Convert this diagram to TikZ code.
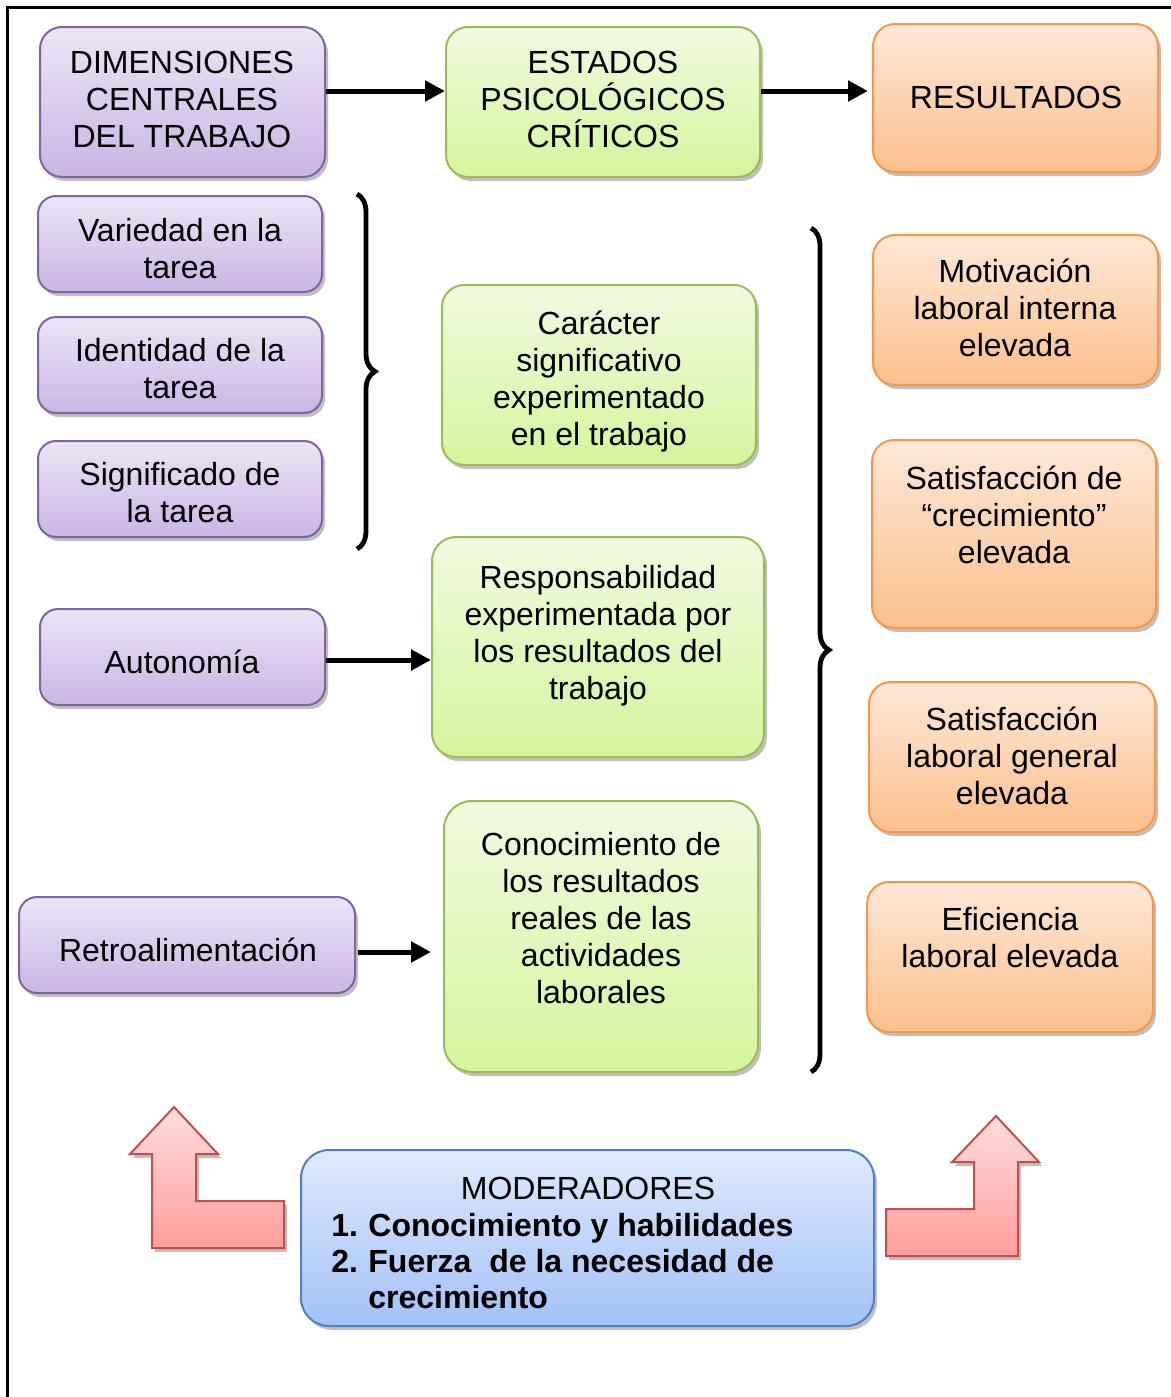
\documentclass[tikz,border=0pt]{standalone}
\usepackage{fontspec}
\setmainfont{Liberation Sans}
\usetikzlibrary{
  arrows.meta,
  shadows,
  decorations.pathreplacing
}
\definecolor{jcPurple}{HTML}{8064A2}
\definecolor{jcPurpleTop}{HTML}{EDE5F6}
\definecolor{jcPurpleBot}{HTML}{C9B5E4}
\definecolor{jcGreen}{HTML}{9BBB59}
\definecolor{jcGreenTop}{HTML}{F1FAE1}
\definecolor{jcGreenBot}{HTML}{D4F59C}
\definecolor{jcOrange}{HTML}{F79646}
\definecolor{jcOrangeTop}{HTML}{FDE8D8}
\definecolor{jcOrangeBot}{HTML}{FBBF8C}
\definecolor{jcBlue}{HTML}{4F81BD}
\definecolor{jcBlueTop}{HTML}{DFEAFC}
\definecolor{jcBlueBot}{HTML}{A3C1F7}
\definecolor{jcRed}{HTML}{C0504D}
\definecolor{jcRedTop}{HTML}{FFDEDE}
\definecolor{jcRedBot}{HTML}{FF9C9C}
\tikzset{
  jcbox/.style={
    draw, line width=1pt, rounded corners=9pt, inner sep=0pt,
    drop shadow={shadow xshift=1.5pt, shadow yshift=-2pt, opacity=0.25, fill=black}
  },
  dimbox/.style={jcbox, draw=jcPurple, top color=jcPurpleTop, bottom color=jcPurpleBot},
  psibox/.style={jcbox, draw=jcGreen, top color=jcGreenTop, bottom color=jcGreenBot},
  resbox/.style={jcbox, draw=jcOrange, top color=jcOrangeTop, bottom color=jcOrangeBot},
  modbox/.style={jcbox, draw=jcBlue, top color=jcBlueTop, bottom color=jcBlueBot, rounded corners=14pt},
  bentarrow/.style={
    draw=jcRed, line width=1pt, top color=jcRedTop, bottom color=jcRedBot,
    drop shadow={shadow xshift=1.5pt, shadow yshift=-2pt, opacity=0.25, fill=black}
  },
  txt/.style={font=\fontsize{16}{18.5}\selectfont, align=center, inner sep=0pt},
  flow/.style={-{Triangle[length=10pt, width=10pt]}, line width=2.5pt},
  brace/.style={decorate, decoration={brace, amplitude=9pt}, line width=2.4pt},
  frame/.style={line width=1.5pt}
}

\begin{document}
\begin{tikzpicture}[x=0.5pt, y=-0.5pt]
  \useasboundingbox (0,0) rectangle (1171,1397);
  \draw[frame] (7,1397) -- (7,7) -- (1171,7);

  % cabecera
  \node[dimbox, minimum width=142.5pt, minimum height=75pt, rounded corners=11pt] (dim) at (182.5,102) {};
  \node[txt] (dim-txt) at (182,99) {DIMENSIONES\\CENTRALES\\DEL TRABAJO};
  \node[psibox, minimum width=157pt, minimum height=75pt, rounded corners=11pt] (estados) at (603,102) {};
  \node[txt] (estados-txt) at (603,99) {ESTADOS\\PSICOLÓGICOS\\CRÍTICOS};
  \node[resbox, minimum width=142.5pt, minimum height=74pt, rounded corners=11pt] (result) at (1015.5,98) {};
  \node[txt] (result-txt) at (1016,97) {RESULTADOS};

  % dimensiones
  \node[dimbox, minimum width=142pt, minimum height=48pt] (variedad) at (180,244) {};
  \node[txt] (variedad-txt) at (180,249) {Variedad en la\\tarea};
  \node[dimbox, minimum width=142pt, minimum height=48pt] (identidad) at (180,365) {};
  \node[txt] (identidad-txt) at (180,369) {Identidad de la\\tarea};
  \node[dimbox, minimum width=142pt, minimum height=48pt] (significado) at (180,489) {};
  \node[txt] (significado-txt) at (180,493) {Significado de\\la tarea};
  \node[dimbox, minimum width=142.5pt, minimum height=48pt] (autonomia) at (182.5,657) {};
  \node[txt] (autonomia-txt) at (182,662) {Autonomía};
  \node[dimbox, minimum width=168pt, minimum height=48pt] (retro) at (187,945) {};
  \node[txt] (retro-txt) at (188,950) {Retroalimentación};

  % estados
  \node[psibox, minimum width=157pt, minimum height=90pt, rounded corners=11pt] (caracter) at (599,375) {};
  \node[txt] (caracter-txt) at (599,382) {Carácter\\significativo\\experimentado\\en el trabajo};
  \node[psibox, minimum width=166pt, minimum height=110pt, rounded corners=12pt] (respons) at (598,647) {};
  \node[txt] (respons-txt) at (598,636) {Responsabilidad\\experimentada por\\los resultados del\\trabajo};
  \node[psibox, minimum width=157pt, minimum height=135.5pt, rounded corners=14pt] (conocim) at (601,936.5) {};
  \node[txt] (conocim-txt) at (601,918) {Conocimiento de\\los resultados\\reales de las\\actividades\\laborales};

  % resultados
  \node[resbox, minimum width=142.5pt, minimum height=75pt, rounded corners=11pt] (motiv) at (1015.5,310) {};
  \node[txt] (motiv-txt) at (1015,308) {Motivación\\laboral interna\\elevada};
  \node[resbox, minimum width=142pt, minimum height=94pt, rounded corners=11pt] (satcrec) at (1014,534) {};
  \node[txt] (satcrec-txt) at (1014,515) {Satisfacción de\\“crecimiento”\\elevada};
  \node[resbox, minimum width=143pt, minimum height=75pt, rounded corners=11pt] (satgen) at (1012,757) {};
  \node[txt] (satgen-txt) at (1012,756) {Satisfacción\\laboral general\\elevada};
  \node[resbox, minimum width=143pt, minimum height=75pt, rounded corners=11pt] (efic) at (1010,957) {};
  \node[txt] (efic-txt) at (1010,938) {Eficiencia\\laboral elevada};

  % flechas
  \coordinate (row-top) at (0,91);
  \coordinate (row-aut) at (0,660);
  \coordinate (row-ret) at (0,952);
  \draw[flow] (dim.east |- row-top) -- (estados.west |- row-top);
  \draw[flow] (estados.east |- row-top) -- ([xshift=-2pt]result.west |- row-top);
  \draw[flow] (autonomia.east |- row-aut) -- (respons.west |- row-aut);
  \draw[flow] ([xshift=1pt]retro.east |- row-ret) -- ([xshift=-6pt]conocim.west |- row-ret);

  % llaves
  \draw[brace] (357,194) -- (357,549);
  \draw[brace] (811,228) -- (811,1072);

  % moderadores
  \node[modbox, minimum width=286.5pt, minimum height=88pt] (moder) at (587.5,1238) {};
  \node[txt] (moder-txt) at (588,1188) {MODERADORES};
  \node[txt, anchor=west, align=left, font=\fontsize{16}{18}\bfseries\selectfont] (moder-list) at (331,1261)
    {\makebox[18.5pt][l]{1.}Conocimiento y habilidades\\
     \makebox[18.5pt][l]{2.}Fuerza\ \ de la necesidad de\\
     \hspace*{18.5pt}crecimiento};

  \draw[bentarrow] (174,1107) -- (218,1154) -- (196,1154) -- (196,1201) -- (284,1201)
    -- (284,1248) -- (152,1248) -- (152,1154) -- (130,1154) -- cycle;
  \draw[bentarrow] (996,1116) -- (1039,1162) -- (1018,1162) -- (1018,1256) -- (886,1256)
    -- (886,1209) -- (974,1209) -- (974,1162) -- (952,1162) -- cycle;
\end{tikzpicture}
\end{document}
